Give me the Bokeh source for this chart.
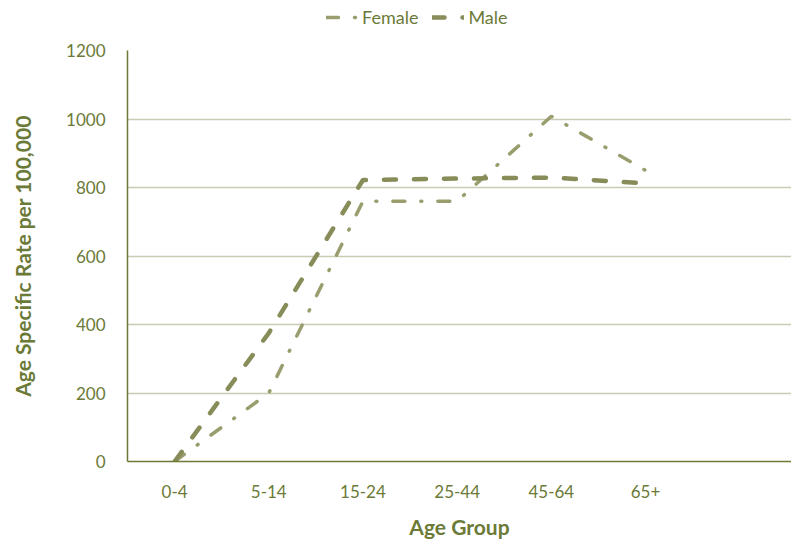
from bokeh.plotting import figure
from bokeh.layouts import column
from bokeh.models import Range1d, FixedTicker, Legend, LegendItem
from bokeh.embed import file_html
from bokeh.resources import INLINE

age_groups = ["0-4", "5-14", "15-24", "25-44", "45-64", "65+"]
female = [0, 200, 760, 760, 1008, 850]
male = [0, 375, 822, 826, 829, 812]
y_ticks = [0, 200, 400, 600, 800, 1000, 1200]
series_names = ["Female", "Male"]

xs = list(range(len(age_groups)))
TEXT = "#6b7a37"
FONT = "Lato"
F_STYLE = dict(line_color="#9a9e6e", line_width=3.5, line_dash="12 16 1 16", line_cap="round")
M_STYLE = dict(line_color="#878c58", line_width=4.5, line_dash="12 18", line_cap="round")

# main chart
p = figure(output_backend="svg", toolbar_location=None,
           width=791, height=502,
           x_range=Range1d(-0.5, 6.55), y_range=Range1d(0, 1200),
           min_border_left=127, min_border_right=0,
           min_border_top=10, min_border_bottom=81)
p.outline_line_color = None
p.background_fill_color = "white"

p.line(xs, female, **F_STYLE)
p.line(xs, male, **M_STYLE)

p.xaxis.ticker = FixedTicker(ticks=xs)
p.xaxis.major_label_overrides = {i: g for i, g in enumerate(age_groups)}
p.yaxis.ticker = FixedTicker(ticks=y_ticks)

for ax in (p.xaxis[0], p.yaxis[0]):
    ax.axis_line_color = "#6b7a37"
    ax.axis_line_width = 1.5
    ax.major_tick_line_color = None
    ax.minor_tick_line_color = None
    ax.major_label_text_color = TEXT
    ax.major_label_text_font = FONT
    ax.major_label_text_font_size = "17px"
    ax.axis_label_text_color = TEXT
    ax.axis_label_text_font = FONT
    ax.axis_label_text_font_size = "21px"
    ax.axis_label_text_font_style = "bold"

p.xaxis.axis_label = "Age Group"
p.yaxis.axis_label = "Age Specific Rate per 100,000"
p.xaxis.major_label_standoff = 17
p.yaxis.major_label_standoff = 16
p.xaxis.axis_label_standoff = 13
p.yaxis.axis_label_standoff = 28

p.xgrid.grid_line_color = None
p.ygrid.grid_line_color = "#c9cbb2"
p.ygrid.grid_line_width = 1.5

# legend strip above the chart (series drawn outside its visible range,
# only their legend samples show)
lg = figure(output_backend="svg", toolbar_location=None,
            width=791, height=40, x_range=Range1d(-0.5, 6.55), y_range=Range1d(-2, -1),
            min_border=0)
lg.axis.visible = False
lg.grid.visible = False
lg.outline_line_color = None
lf = lg.line(xs, female, **F_STYLE)
lm = lg.line(xs, male, **M_STYLE)
legend = Legend(items=[LegendItem(label=series_names[0], renderers=[lf]),
                       LegendItem(label=series_names[1], renderers=[lm])],
                orientation="horizontal", location=(199, 12),
                label_text_color=TEXT, label_text_font=FONT,
                label_text_font_size="18px", glyph_width=32,
                border_line_color=None, background_fill_alpha=0,
                padding=0, margin=0, spacing=14, label_standoff=4)
lg.add_layout(legend, "center")

layout = column(lg, p, spacing=0)
open("out.html", "w").write(file_html(layout, INLINE))
